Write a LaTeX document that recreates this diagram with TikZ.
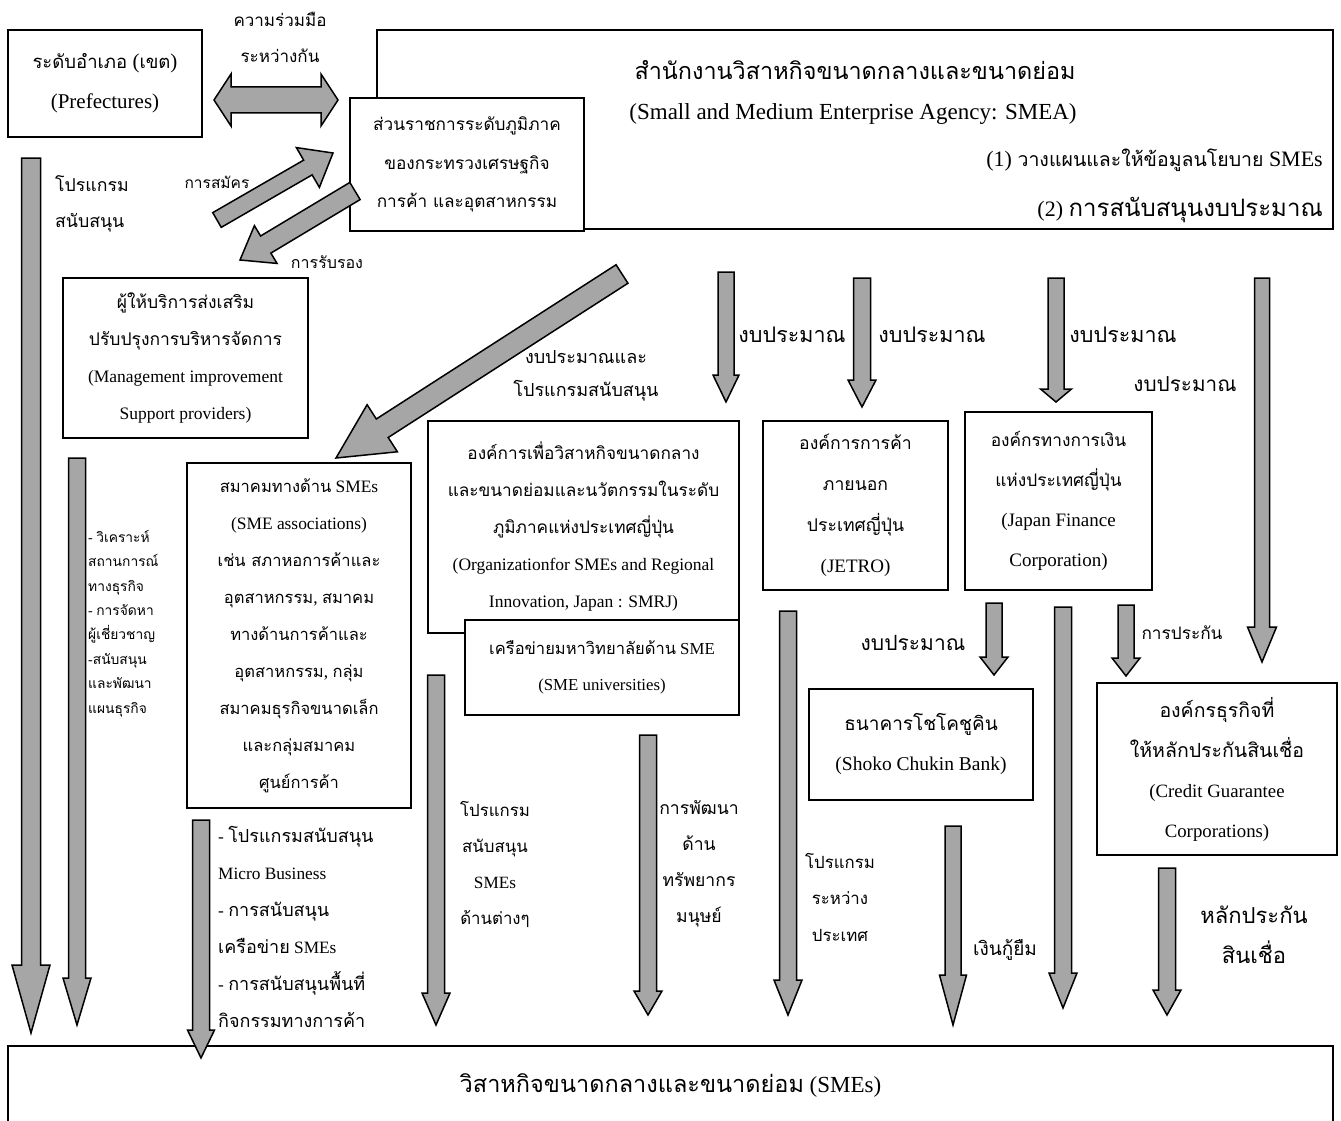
\documentclass[tikz,border=0pt]{standalone}
\usepackage{fontspec}
\setmainfont{Liberation Serif}
\newfontfamily\thfont[Script=Thai]{Loma}
\usetikzlibrary{calc}
\definecolor{arrowgray}{RGB}{166,166,166}
\newcommand\fz[3]{\fontsize{#1}{#3}\selectfont\def\thsz{#2}\def\bsk{#3}}
\newcommand\tht[1]{{\fontsize{\thsz}{\bsk}\thfont #1}}
\tikzset{
  box/.style={draw, line width=1.3pt, fill=white, align=center, inner sep=0pt},
  lbl/.style={align=center, inner sep=0pt},
  lbll/.style={align=left, inner sep=0pt, anchor=west},
  blkarrow/.style={draw, line width=1.5pt, fill=arrowgray, line join=miter}
}
% block arrow: #1 start, #2 tip, #3 shaft half width, #4 head half width, #5 head length
\newcommand\blk[5]{%
  \coordinate (hb) at ($(#2)!#5pt!(#1)$);
  \draw[blkarrow] ($(#1)!#3pt!90:(#2)$) -- ($(hb)!#3pt!90:(#2)$) -- ($(hb)!#4pt!90:(#2)$)
    -- (#2) -- ($(hb)!#4pt!-90:(#2)$) -- ($(hb)!#3pt!-90:(#2)$) -- ($(#1)!#3pt!-90:(#2)$) -- cycle;}
\begin{document}
\begin{tikzpicture}[x=1pt,y=-1pt]
\useasboundingbox (0,0) rectangle (1341,1121);
\fill[white] (0,0) rectangle (1341,1121);

% ---------- boxes ----------
\node[box, minimum width=956, minimum height=199] (smea) at (855,129.5) {};
\node[box, minimum width=234, minimum height=133, font={\fz{18}{17.2}{38.5}}] (reg) at (467,164.5)
  {\tht{ส่วนราชการระดับภูมิภาค}\\\tht{ของกระทรวงเศรษฐกิจ}\\\tht{การค้า และอุตสาหกรรม}};
\node[lbl, font={\fz{23}{23.4}{40}}] (smea1) at (855,70) {\tht{สำนักงานวิสาหกิจขนาดกลางและขนาดย่อม}};
\node[lbl, font={\fz{23}{24}{40}}] (smea2) at (853,114) {(Small and Medium Enterprise Agency: SMEA)};
\node[lbl, anchor=east, font={\fz{22}{19.5}{40}}] (smea3) at (1323,160) {(1) \tht{วางแผนและให้ข้อมูลนโยบาย} SMEs};
\node[lbl, anchor=east, font={\fz{22}{24}{40}}] (smea4) at (1323,210) {(2) \tht{การสนับสนุนงบประมาณ}};

\node[box, minimum width=194, minimum height=107, font={\fz{21}{18.5}{40}}] (pref) at (105,83.5)
  {\tht{ระดับอำเภอ} (\tht{เขต})\\(Prefectures)};
\node[box, minimum width=245, minimum height=160, font={\fz{17.5}{17.5}{37}}] (mgmt) at (185.5,358)
  {\tht{ผู้ให้บริการส่งเสริม}\\\tht{ปรับปรุงการบริหารจัดการ}\\(Management improvement\\Support providers)};
\node[box, minimum width=224, minimum height=345, font={\fz{17.4}{16.5}{37}}] (assoc) at (299,635.5)
  {\tht{สมาคมทางด้าน} SMEs\\(SME associations)\\\tht{เช่น สภาหอการค้าและ}\\\tht{อุตสาหกรรม}, \tht{สมาคม}\\\tht{ทางด้านการค้าและ}\\\tht{อุตสาหกรรม}, \tht{กลุ่ม}\\\tht{สมาคมธุรกิจขนาดเล็ก}\\\tht{และกลุ่มสมาคม}\\\tht{ศูนย์การค้า}};
\node[box, minimum width=311, minimum height=212, font={\fz{17.5}{17.2}{37}}] (smrj) at (583.5,527)
  {\tht{องค์การเพื่อวิสาหกิจขนาดกลาง}\\\tht{และขนาดย่อมและนวัตกรรมในระดับ}\\\tht{ภูมิภาคแห่งประเทศญี่ปุ่น}\\(Organizationfor SMEs and Regional\\Innovation, Japan : SMRJ)};
\node[box, minimum width=274, minimum height=95, font={\fz{16.8}{16.5}{36}}] (univ) at (602,667.5)
  {\tht{เครือข่ายมหาวิทยาลัยด้าน} SME\\(SME universities)};
\node[box, minimum width=185, minimum height=169, font={\fz{19}{17.6}{41}}] (jetro) at (855.5,505.5)
  {\tht{องค์การการค้า}\\\tht{ภายนอก}\\\tht{ประเทศญี่ปุ่น}\\(JETRO)};
\node[box, minimum width=187, minimum height=178, font={\fz{19}{17.3}{40}}] (jf) at (1058.5,501)
  {\tht{องค์กรทางการเงิน}\\\tht{แห่งประเทศญี่ปุ่น}\\(Japan Finance\\Corporation)};
\node[box, minimum width=224, minimum height=111, font={\fz{19.5}{19}{40}}] (shoko) at (921,744.5)
  {\tht{ธนาคารโชโคชูคิน}\\(Shoko Chukin Bank)};
\node[box, minimum width=240, minimum height=172, font={\fz{18.8}{19.5}{40}}] (credit) at (1217,769)
  {\tht{องค์กรธุรกิจที่}\\\tht{ให้หลักประกันสินเชื่อ}\\(Credit Guarantee\\Corporations)};
\node[box, minimum width=1325, minimum height=79, font={\fz{23}{23.5}{40}}] (smes) at (670.5,1085.5)
  {\tht{วิสาหกิจขนาดกลางและขนาดย่อม} (SMEs)};

% ---------- arrow end points ----------
\coordinate (dl) at (214,100);
\coordinate (dr) at (338,100);
\coordinate (apS) at (217,220);  \coordinate (apE) at (333,153);
\coordinate (ceS) at (355,191);  \coordinate (ceE) at (240,260);
\coordinate (bdS) at (622,274);  \coordinate (bdE) at (336,458);
\coordinate (l1S) at (31,158);   \coordinate (l1E) at (31,1033);
\coordinate (l2S) at (77,458);   \coordinate (l2E) at (77,1025);
\coordinate (saS) at (201,820);  \coordinate (saE) at (201,1058);
\coordinate (prS) at (436,675);  \coordinate (prE) at (436,1025);
\coordinate (hrS) at (648,735);  \coordinate (hrE) at (648,1015);
\coordinate (b1S) at (726,272);  \coordinate (b1E) at (726,402);
\coordinate (b2S) at (862,278);  \coordinate (b2E) at (862,407);
\coordinate (b3S) at (1056,278); \coordinate (b3E) at (1056,402);
\coordinate (b4S) at (1262,278); \coordinate (b4E) at (1262,662);
\coordinate (inS) at (788,611);  \coordinate (inE) at (788,1015);
\coordinate (sbS) at (994,603);  \coordinate (sbE) at (994,675);
\coordinate (miS) at (1063,607); \coordinate (miE) at (1063,1008);
\coordinate (guS) at (1126,605); \coordinate (guE) at (1126,676);
\coordinate (loS) at (953,826);  \coordinate (loE) at (953,1025);
\coordinate (crS) at (1167,868); \coordinate (crE) at (1167,1015);

% ---------- arrows ----------
\draw[blkarrow] (dl) -- ++(17,-26) -- ++(0,13) -- ($(dr)+(-17,-13)$) -- ++(0,-13) -- (dr)
  -- ++(-17,26) -- ++(0,-13) -- ($(dl)+(17,13)$) -- ++(0,13) -- cycle;
\blk{apS}{apE}{8.5}{23}{29}
\blk{ceS}{ceE}{10}{22}{30}
\blk{bdS}{bdE}{11}{28}{55}
\blk{l1S}{l1E}{9.5}{19}{68}
\blk{l2S}{l2E}{8.5}{14}{47}
\blk{saS}{saE}{8.5}{13.5}{28}
\blk{prS}{prE}{8.5}{14}{32}
\blk{hrS}{hrE}{8.5}{14}{24}
\blk{b1S}{b1E}{8}{13}{27}
\blk{b2S}{b2E}{8.5}{14}{27}
\blk{b3S}{b3E}{8}{15.5}{13}
\blk{b4S}{b4E}{7.5}{14.5}{35}
\blk{inS}{inE}{8.5}{14}{35}
\blk{sbS}{sbE}{8}{14}{18}
\blk{miS}{miE}{8.5}{14}{35}
\blk{guS}{guE}{8}{14}{18}
\blk{loS}{loE}{8}{13.5}{50}
\blk{crS}{crE}{8.5}{14}{25}

% ---------- labels ----------
\node[lbl, font={\fz{17}{17}{36}}] (coop) at (280,37) {\tht{ความร่วมมือ}\\\tht{ระหว่างกัน}};
\node[lbl, font={\fz{15.5}{15.5}{36}}] (apply) at (217,182) {\tht{การสมัคร}};
\node[lbl, font={\fz{16}{16}{36}}] (cert) at (327,262) {\tht{การรับรอง}};
\node[lbll, font={\fz{17.7}{17.7}{36}}] (progL) at (55,204) {\tht{โปรแกรม}\\\tht{สนับสนุน}};
\node[lbl, font={\fz{18}{18}{33}}] (budprog) at (586,376) {\tht{งบประมาณและ}\\\tht{โปรแกรมสนับสนุน}};
\node[lbl, font={\fz{21.5}{21.5}{36}}] (bl1) at (792,335) {\tht{งบประมาณ}};
\node[lbl, font={\fz{21.5}{21.5}{36}}] (bl2) at (932,335) {\tht{งบประมาณ}};
\node[lbl, font={\fz{21.5}{21.5}{36}}] (bl3) at (1123,335) {\tht{งบประมาณ}};
\node[lbl, font={\fz{20.7}{20.7}{36}}] (bl4) at (1185,384) {\tht{งบประมาณ}};
\node[lbll, font={\fz{14}{13.8}{24.4}}] (analysis) at (88,623.5)
  {- \tht{วิเคราะห์}\\\tht{สถานการณ์}\\\tht{ทางธุรกิจ}\\- \tht{การจัดหา}\\\tht{ผู้เชี่ยวชาญ}\\-\tht{สนับสนุน}\\\tht{และพัฒนา}\\\tht{แผนธุรกิจ}};
\node[lbll, font={\fz{17.3}{18}{37}}] (micro) at (218,927)
  {- \tht{โปรแกรมสนับสนุน}\\Micro Business\\- \tht{การสนับสนุน}\\\tht{เครือข่าย} SMEs\\- \tht{การสนับสนุนพื้นที่}\\\tht{กิจกรรมทางการค้า}};
\node[lbl, font={\fz{17.2}{16.8}{36}}] (progsme) at (495,864) {\tht{โปรแกรม}\\\tht{สนับสนุน}\\SMEs\\\tht{ด้านต่างๆ}};
\node[lbl, font={\fz{17.2}{17.6}{36}}] (hr) at (699,864) {\tht{การพัฒนา}\\\tht{ด้าน}\\\tht{ทรัพยากร}\\\tht{มนุษย์}};
\node[lbl, font={\fz{17.2}{16.8}{36.5}}] (intl) at (840,897) {\tht{โปรแกรม}\\\tht{ระหว่าง}\\\tht{ประเทศ}};
\node[lbl, font={\fz{21}{21}{36}}] (bl5) at (913,643) {\tht{งบประมาณ}};
\node[lbl, font={\fz{17.2}{17.2}{36}}] (guar) at (1182,633) {\tht{การประกัน}};
\node[lbl, font={\fz{19}{19}{36}}] (loan) at (1005,950) {\tht{เงินกู้ยืม}};
\node[lbl, font={\fz{22}{22}{40}}] (credtxt) at (1254,935) {\tht{หลักประกัน}\\\tht{สินเชื่อ}};
\end{tikzpicture}
\end{document}
